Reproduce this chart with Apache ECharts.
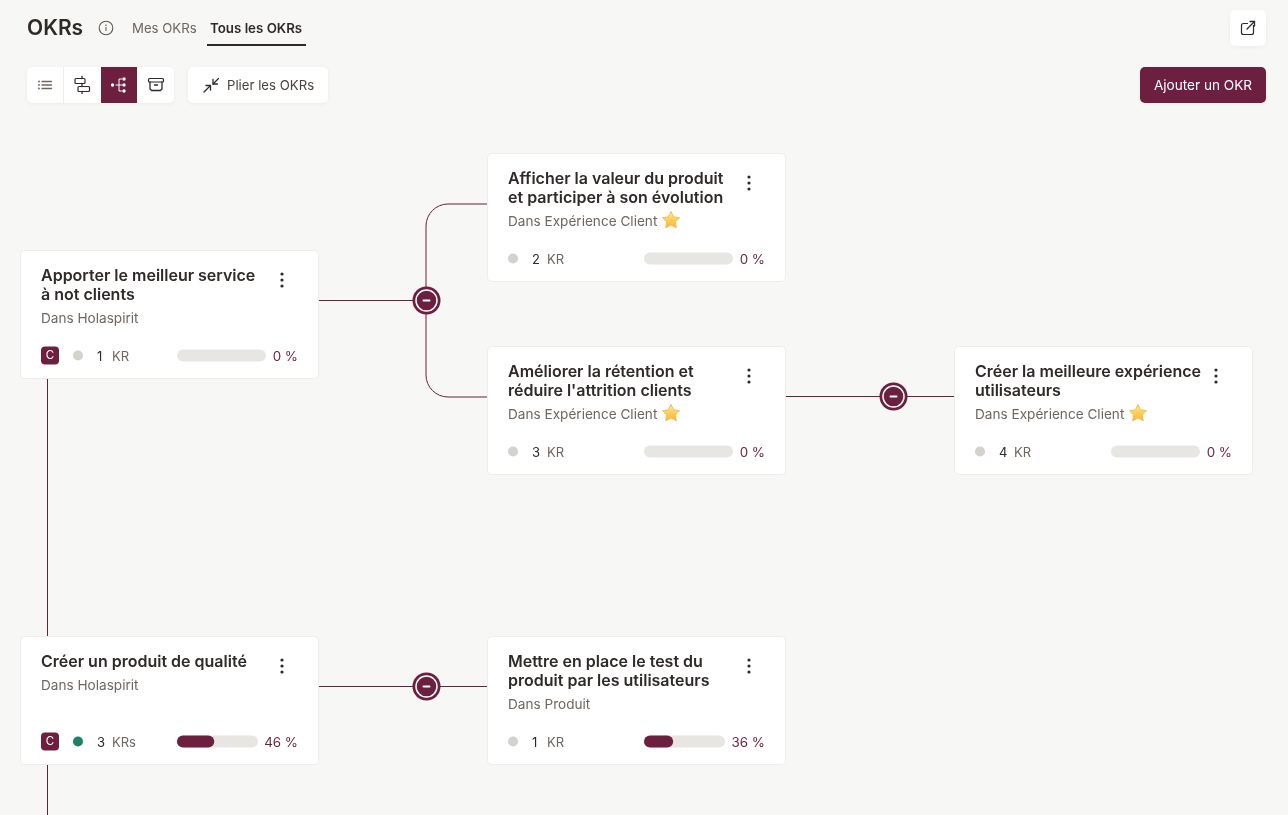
<!DOCTYPE html>
<html>
<head>
<meta charset="utf-8">
<title>OKRs</title>
<script src="https://cdn.jsdelivr.net/npm/echarts@6/dist/echarts.min.js"></script>
<style>
  html, body { margin: 0; padding: 0; background: #f7f7f5; }
  #chart { width: 1288px; height: 815px; }
</style>
</head>
<body>
<div id="chart"></div>
<script>
// data
var okrTitles = [
  ['Apporter le meilleur service', 'à not clients'],
  ['Afficher la valeur du produit', 'et participer à son évolution'],
  ['Améliorer la rétention et', "réduire l'attrition clients"],
  ['Créer la meilleure expérience', 'utilisateurs'],
  ['Créer un produit de qualité'],
  ['Mettre en place le test du', 'produit par les utilisateurs']
];
var okrTeams = ['Dans Holaspirit', 'Dans Expérience Client', 'Dans Expérience Client', 'Dans Expérience Client', 'Dans Holaspirit', 'Dans Produit'];
var okrStarred = [false, true, true, true, false, false];
var okrCompany = [true, false, false, false, true, false];
var krCounts = [1, 2, 3, 4, 3, 1];
var krUnits = ['KR', 'KR', 'KR', 'KR', 'KRs', 'KR'];
var krOnTrack = [false, false, false, false, true, false];
var okrProgress = [0, 0, 0, 0, 46, 36];
// tree links: parent index -> child index
var linkParents = [0, 0, 2, 4];
var linkChildren = [1, 2, 3, 5];
var tabLabels = ['Mes OKRs', 'Tous les OKRs'];

// layout, in page pixels (the axes below map 1:1 on the page)
var cardLeft = [20, 487, 487, 954, 20, 487];
var cardTop = [250, 153, 346, 346, 636, 636];
var CARD_W = 299, CARD_H = 129;

var MAROON = '#6c1f3f', DARK = '#2f2a28', GREY = '#6f665f', TRACK = '#e8e6e3';
var FONT = 'Inter, "Noto Sans", sans-serif';

var cardData = okrTitles.map(function (t, i) {
  return { value: [cardLeft[i], cardTop[i], okrProgress[i]], idx: i };
});

function txt(x, y, text, size, color, weight, align) {
  return {
    type: 'text',
    silent: true,
    style: {
      x: x, y: y + 1, text: text, fill: color,
      font: (weight || 400) + ' ' + size + 'px ' + FONT,
      align: align || 'left', verticalAlign: 'middle'
    }
  };
}

function starShape(cx, cy, r) {
  var pts = [];
  for (var k = 0; k < 10; k++) {
    var rad = k % 2 ? r * 0.5 : r;
    var a = -Math.PI / 2 + k * Math.PI / 5;
    pts.push([cx + rad * Math.cos(a), cy + rad * Math.sin(a)]);
  }
  return {
    type: 'polygon',
    shape: { points: pts, smooth: 0 },
    style: {
      fill: new echarts.graphic.LinearGradient(0, 0, 0, 1, [
        { offset: 0, color: '#ffeb99' }, { offset: 1, color: '#fcb424' }
      ]),
      stroke: '#ecc05a', lineWidth: 1, lineJoin: 'round'
    }
  };
}

function renderCard(params, api) {
  var i = params.dataIndex;
  var p = api.coord([api.value(0), api.value(1)]);
  var x = p[0], y = p[1];
  var pct = api.value(2);
  var kids = [{
    type: 'rect',
    shape: { x: x + 0.5, y: y + 0.5, width: CARD_W - 1, height: CARD_H - 1, r: 4 },
    style: { fill: '#fff', stroke: '#eeedea', lineWidth: 1 }
  }];

  // title and team
  okrTitles[i].forEach(function (line, k) {
    kids.push(txt(x + 21, y + 25 + k * 19, line, 16, DARK, 600));
  });
  var teamY = y + 68;
  if (okrTitles[i].length === 1) teamY = y + 49;
  kids.push(txt(x + 21, teamY, okrTeams[i], 13.6, GREY));
  if (okrStarred[i]) kids.push(starShape(x + 184, teamY - 0.5, 9));

  // kebab menu
  [-6, 0, 6].forEach(function (d) {
    kids.push({ type: 'circle', shape: { cx: x + 262, cy: y + 30 + d, r: 1.6 }, style: { fill: DARK } });
  });

  // footer
  var rowY = y + 105.5;
  var dotX = x + 26;
  if (okrCompany[i]) {
    kids.push({ type: 'rect', shape: { x: x + 21, y: rowY - 9, width: 18, height: 18, r: 4 }, style: { fill: MAROON } });
    kids.push(txt(x + 30, rowY - 0.5, 'C', 11.5, '#fff', 400, 'center'));
    dotX = x + 58;
  }
  kids.push({ type: 'circle', shape: { cx: dotX, cy: rowY, r: 5 }, style: { fill: krOnTrack[i] ? '#1f8068' : '#d5d1cd' } });
  kids.push(txt(dotX + 19, rowY + 0.5, String(krCounts[i]), 13, DARK));
  kids.push(txt(dotX + 34, rowY + 0.5, krUnits[i], 13, GREY));

  // progress: the track gets shorter when the label is wider
  var labelRight = x + 278;
  var trackX = x + 157;
  var trackW = pct > 0 ? 81 : 89;
  kids.push({ type: 'rect', shape: { x: trackX, y: rowY - 6, width: trackW, height: 12, r: 6 }, style: { fill: TRACK } });
  if (pct > 0) {
    kids.push({ type: 'rect', shape: { x: trackX, y: rowY - 6, width: trackW * pct / 100, height: 12, r: 6 }, style: { fill: MAROON } });
  }
  kids.push(txt(labelRight, rowY + 0.5, pct + ' %', 13.4, MAROON, 400, 'right'));

  return { type: 'group', children: kids };
}

// elbow link from the parent's right edge to the child's left edge
function renderLink(params, api) {
  var parent = api.value(0), child = api.value(1);
  var a = api.coord([cardLeft[parent] + CARD_W, cardTop[parent] + 50.5]);
  var b = api.coord([cardLeft[child], cardTop[child] + 51]);
  var lineStyle = { fill: 'none', stroke: MAROON, lineWidth: 1 };
  if (Math.abs(a[1] - b[1]) < 1) {
    return {
      type: 'line',
      shape: { x1: a[0], y1: a[1], x2: b[0], y2: a[1] },
      style: lineStyle
    };
  }
  var midX = a[0] + 107, r = 22;
  var s = b[1] < a[1] ? -1 : 1;
  return {
    type: 'group',
    children: [
      { type: 'polyline', shape: { points: [[a[0], a[1]], [midX, a[1]], [midX, b[1] - s * r]] }, style: lineStyle },
      {
        type: 'bezierCurve',
        shape: {
          x1: midX, y1: b[1] - s * r,
          cpx1: midX, cpy1: b[1] - s * r * 0.45,
          cpx2: midX + r * 0.45, cpy2: b[1],
          x2: midX + r, y2: b[1]
        },
        style: lineStyle
      },
      { type: 'line', shape: { x1: midX + r, y1: b[1], x2: b[0], y2: b[1] }, style: lineStyle }
    ]
  };
}

function renderToggle(params, api) {
  var parent = api.value(0);
  var p = api.coord([cardLeft[parent] + CARD_W + 107.5, cardTop[parent] + 50.5]);
  return {
    type: 'group',
    x: p[0], y: p[1],
    children: [
      { type: 'circle', shape: { cx: 0, cy: 0, r: 14 }, style: { fill: MAROON } },
      { type: 'circle', shape: { cx: 0, cy: 0, r: 10.5 }, style: { fill: MAROON, stroke: '#fff', lineWidth: 1.5 } },
      { type: 'rect', shape: { x: -4, y: -1, width: 8, height: 2, r: 1 }, style: { fill: '#fff' } }
    ]
  };
}

// the line that joins the two top level objectives, it runs off the page
function renderSpine(params, api) {
  var a = api.coord([47.5, api.value(0)]);
  var b = api.coord([47.5, api.value(1)]);
  return {
    type: 'line',
    shape: { x1: a[0], y1: a[1], x2: b[0], y2: b[1] },
    style: { stroke: MAROON, lineWidth: 1 }
  };
}

function btn(x, y, w, h, fill) {
  return {
    type: 'rect',
    shape: { x: x, y: y, width: w, height: h, r: 5 },
    style: { fill: fill || '#fff', shadowBlur: 4, shadowColor: 'rgba(0,0,0,.05)', shadowOffsetY: 1 }
  };
}

function icoLine(pts, color, width) {
  return { type: 'polyline', shape: { points: pts }, style: { fill: 'none', stroke: color || DARK, lineWidth: width || 1.3, lineCap: 'round', lineJoin: 'round' } };
}

function dot(cx, cy, r, color) {
  return { type: 'circle', shape: { cx: cx, cy: cy, r: r }, style: { fill: color } };
}

var chrome = [
  txt(27, 28, 'OKRs', 21, DARK, 600),
  { type: 'circle', shape: { cx: 106, cy: 28, r: 6.8 }, style: { fill: 'none', stroke: '#5f5750', lineWidth: 1.1 } },
  dot(106, 25.2, 0.8, '#5f5750'),
  { type: 'rect', shape: { x: 105.5, y: 27, width: 1, height: 4 }, style: { fill: '#5f5750' } },
  txt(132, 28, tabLabels[0], 13.2, GREY),
  txt(210, 28, tabLabels[1], 13.3, DARK, 600),
  { type: 'rect', shape: { x: 207, y: 44, width: 99, height: 2 }, style: { fill: DARK } },

  // top right export button
  btn(1230, 10, 36, 36),
  { type: 'rect', shape: { x: 1241.5, y: 23.5, width: 12, height: 11, r: 2 }, style: { fill: 'none', stroke: DARK, lineWidth: 1.2 } },
  { type: 'rect', shape: { x: 1248, y: 19, width: 8, height: 6 }, style: { fill: '#fff' } },
  icoLine([[1247, 29], [1254.5, 21.5]]),
  icoLine([[1250, 21.5], [1254.5, 21.5], [1254.5, 26]]),

  // view switcher
  btn(27, 67, 147, 36),
  { type: 'rect', shape: { x: 63, y: 67, width: 1, height: 36 }, style: { fill: '#eeedea' } },
  { type: 'rect', shape: { x: 101, y: 67, width: 36, height: 36 }, style: { fill: MAROON } },
  // list icon
  dot(39, 81.5, 0.9, '#6f665f'), dot(39, 85, 0.9, '#6f665f'), dot(39, 88.5, 0.9, '#6f665f'),
  icoLine([[42, 81.5], [51.5, 81.5]], '#6f665f'), icoLine([[42, 85], [51.5, 85]], '#6f665f'), icoLine([[42, 88.5], [51.5, 88.5]], '#6f665f'),
  // align icon
  { type: 'rect', shape: { x: 75, y: 78.5, width: 10, height: 5, r: 1 }, style: { fill: 'none', stroke: DARK, lineWidth: 1.2 } },
  { type: 'rect', shape: { x: 78, y: 86.5, width: 11.5, height: 5, r: 1 }, style: { fill: 'none', stroke: DARK, lineWidth: 1.2 } },
  icoLine([[82, 76.5], [82, 78.5]]), icoLine([[82, 83.5], [82, 86.5]]), icoLine([[82, 91.5], [82, 93.5]]),
  // tree icon
  dot(112.5, 85, 1.7, '#fff'), dot(124, 79, 1.7, '#fff'), dot(124, 85, 1.7, '#fff'), dot(124, 91, 1.7, '#fff'),
  icoLine([[116, 85], [122, 85]], '#fff', 1), icoLine([[121.5, 79], [119, 79], [119, 91], [121.5, 91]], '#fff', 1),
  // archive icon
  { type: 'rect', shape: { x: 148.5, y: 78.5, width: 15, height: 3.5, r: 1 }, style: { fill: 'none', stroke: DARK, lineWidth: 1.2 } },
  icoLine([[150, 82], [150, 89], [151.5, 90.5], [160.5, 90.5], [162, 89], [162, 82]]),
  icoLine([[154.5, 85], [157.5, 85]]),

  // collapse button
  btn(188, 67, 140, 36),
  icoLine([[204, 92], [210, 86]]), icoLine([[206, 85.5], [210.5, 85.5], [210.5, 90]]),
  icoLine([[218.5, 78.5], [213, 84]]), icoLine([[213, 79.5], [213, 84], [217.5, 84]]),
  txt(227, 85, 'Plier les OKRs', 13.2, '#4a433f'),

  // add button
  btn(1140, 67, 126, 36, MAROON),
  txt(1203, 85, 'Ajouter un OKR', 13.6, '#fff', 400, 'center')
];

var myChart = echarts.init(document.getElementById('chart'));
var option = {
  animation: false,
  backgroundColor: '#f7f7f5',
  grid: { left: 0, right: 0, top: 0, bottom: 0 },
  xAxis: { type: 'value', min: 0, max: 1288, show: false },
  yAxis: { type: 'value', min: 0, max: 815, inverse: true, show: false },
  graphic: { elements: chrome },
  series: [
    {
      type: 'custom', name: 'spine', coordinateSystem: 'cartesian2d', silent: true,
      renderItem: renderSpine, z: 1,
      encode: { x: 0, y: 1 },
      data: [[cardTop[0] + CARD_H, cardTop[4]], [cardTop[4] + CARD_H, 815]]
    },
    {
      type: 'custom', name: 'links', coordinateSystem: 'cartesian2d', silent: true,
      renderItem: renderLink, z: 1,
      data: linkParents.map(function (p, i) { return [p, linkChildren[i]]; })
    },
    {
      type: 'custom', name: 'toggles', coordinateSystem: 'cartesian2d', silent: true,
      renderItem: renderToggle, z: 3,
      data: [[0], [2], [4]]
    },
    {
      type: 'custom', name: 'cards', coordinateSystem: 'cartesian2d', silent: true,
      renderItem: renderCard, z: 2,
      data: cardData
    }
  ]
};
myChart.setOption(option);
window.addEventListener('resize', function () {
  myChart.resize();
});
</script>
</body>
</html>
